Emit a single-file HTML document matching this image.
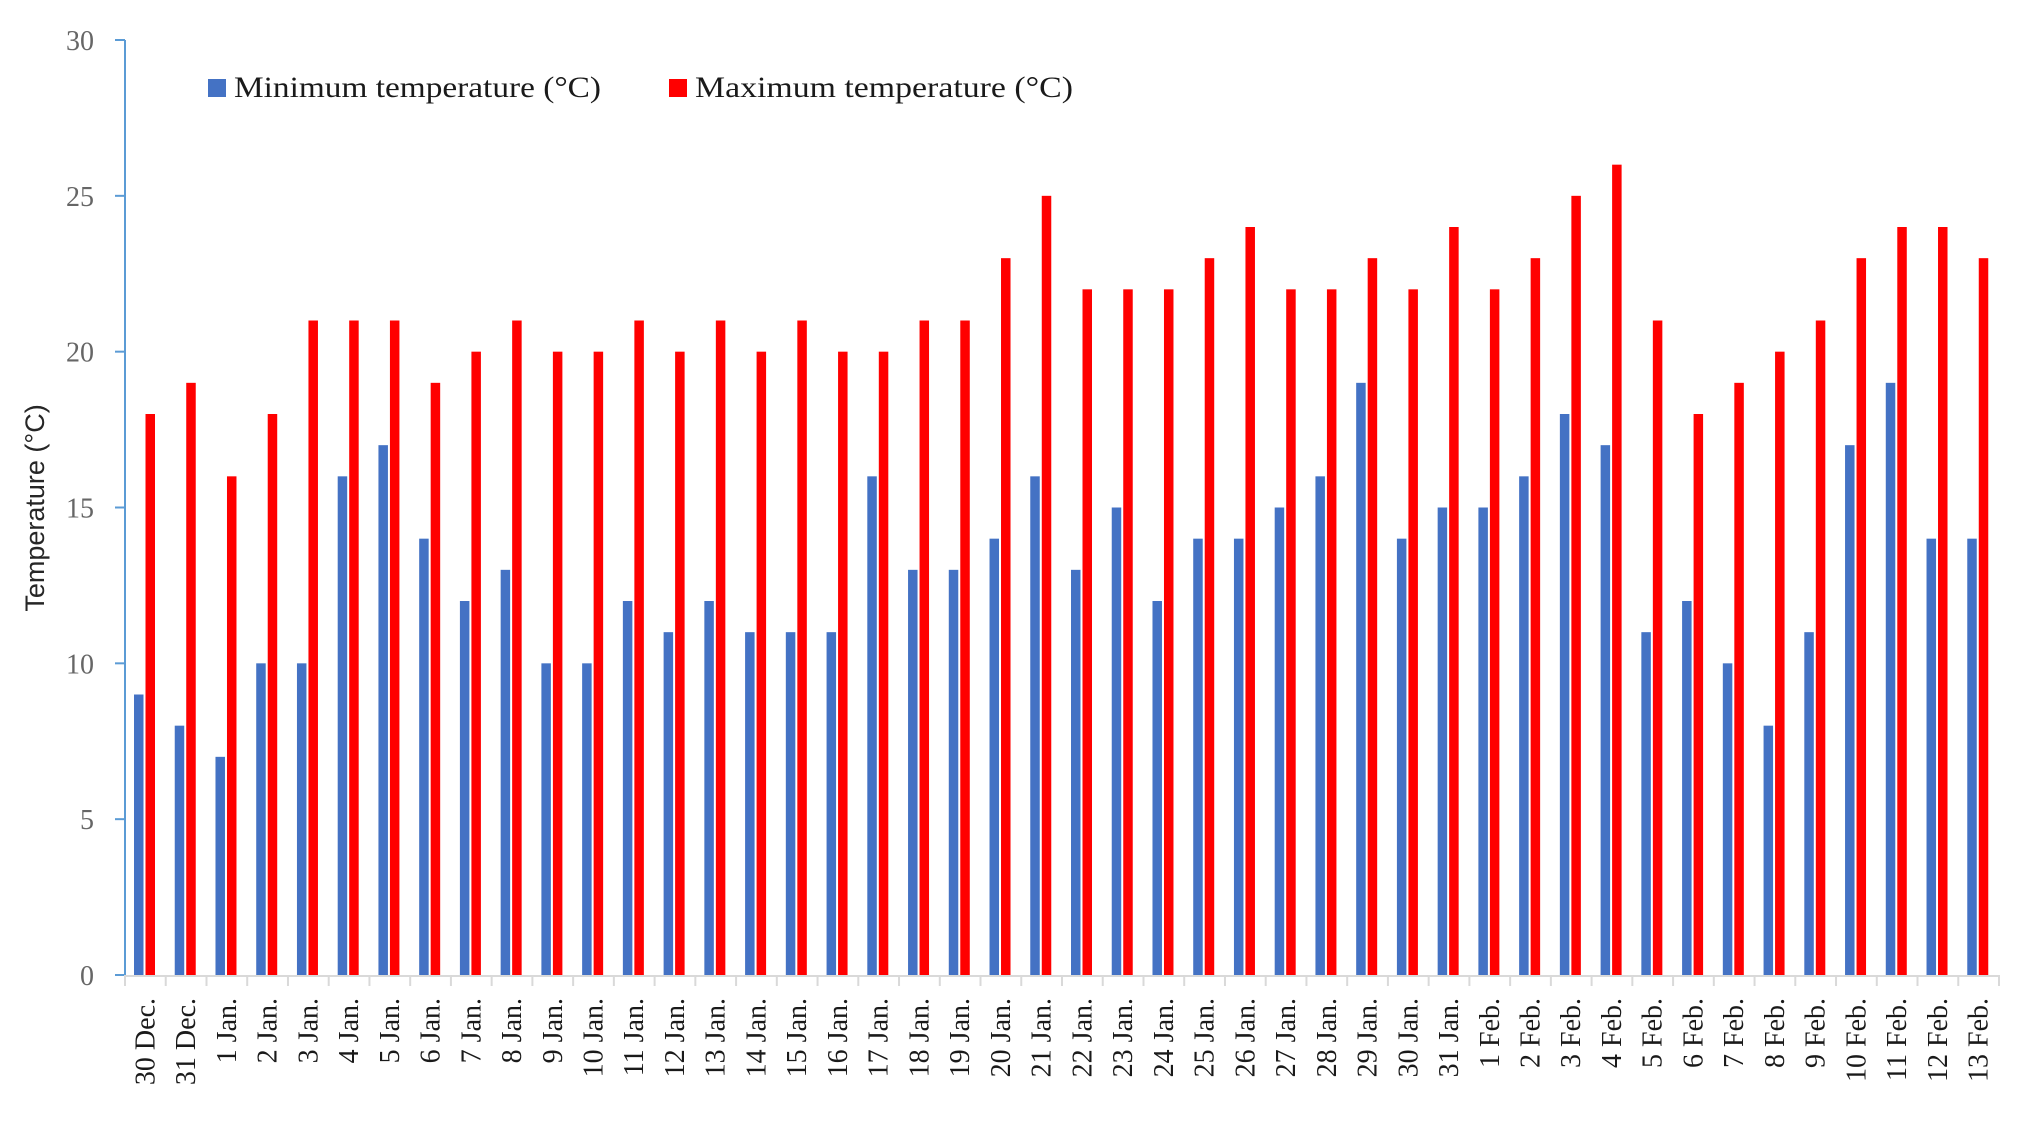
<!DOCTYPE html>
<html><head><meta charset="utf-8"><style>
html,body{margin:0;padding:0;background:#fff;}
svg{display:block;}
</style></head><body>
<svg id="chart" width="2026" height="1122" viewBox="0 0 2026 1122" xmlns="http://www.w3.org/2000/svg">
<g id="grid"></g>
<g id="bars"></g>
<g id="labels"></g>
<text transform="translate(44,508) rotate(-90)" text-anchor="middle" font-family="Liberation Sans, sans-serif" font-size="27" fill="#262626">Temperature (°C)</text>
<g>
<rect x="208" y="79" width="18" height="18" fill="#4472C4"/>
<text x="234" y="97" font-family="Liberation Serif, serif" font-size="30" fill="#1a1a1a" textLength="367" lengthAdjust="spacingAndGlyphs">Minimum temperature (°C)</text>
<rect x="669" y="79" width="18" height="18" fill="#FF0000"/>
<text x="695" y="97" font-family="Liberation Serif, serif" font-size="30" fill="#1a1a1a" textLength="378" lengthAdjust="spacingAndGlyphs">Maximum temperature (°C)</text>
</g>
</svg>
<script>
const categories = ["30 Dec.","31 Dec.","1 Jan.","2 Jan.","3 Jan.","4 Jan.","5 Jan.","6 Jan.","7 Jan.","8 Jan.","9 Jan.","10 Jan.","11 Jan.","12 Jan.","13 Jan.","14 Jan.","15 Jan.","16 Jan.","17 Jan.","18 Jan.","19 Jan.","20 Jan.","21 Jan.","22 Jan.","23 Jan.","24 Jan.","25 Jan.","26 Jan.","27 Jan.","28 Jan.","29 Jan.","30 Jan.","31 Jan.","1 Feb.","2 Feb.","3 Feb.","4 Feb.","5 Feb.","6 Feb.","7 Feb.","8 Feb.","9 Feb.","10 Feb.","11 Feb.","12 Feb.","13 Feb."];
const minTemp = [9,8,7,10,10,16,17,14,12,13,10,10,12,11,12,11,11,11,16,13,13,14,16,13,15,12,14,14,15,16,19,14,15,15,16,18,17,11,12,10,8,11,17,19,14,14];
const maxTemp = [18,19,16,18,21,21,21,19,20,21,20,20,21,20,21,20,21,20,20,21,21,23,25,22,22,22,23,24,22,22,23,22,24,22,23,25,26,21,18,19,20,21,23,24,24,23];
const yTicks = [0,5,10,15,20,25,30];

const NS = "http://www.w3.org/2000/svg";
const X0 = 125, X1 = 1999, Y0 = 975, Y30 = 40;
const band = (X1 - X0) / categories.length;
function yScale(v){ return Y0 - (v/30)*(Y0 - Y30); }
function xScale(i){ return X0 + i*band; }
function mk(tag, attrs, parent){ const e=document.createElementNS(NS,tag); for(const k in attrs) e.setAttribute(k,attrs[k]); parent.appendChild(e); return e; }
const grid=document.getElementById('grid'), bars=document.getElementById('bars'), labels=document.getElementById('labels');

let ya = mk('line',{x1:X0,y1:Y30,x2:X0,y2:Y0,stroke:'#5B9BD5','stroke-width':2},grid);


yTicks.forEach(v=>{
  const y=yScale(v);
  const t=mk('line',{x1:X0-10,y1:y,x2:X0,y2:y,stroke:'#5B9BD5','stroke-width':2},grid);
  
  
  const l=mk('text',{x:94,y:y+10,'text-anchor':'end','font-family':'Liberation Serif, serif','font-size':28,fill:'#666'},labels);
  l.textContent=v;
  
  
});
let xa = mk('line',{x1:X0,y1:Y0+1,x2:X1,y2:Y0+1,stroke:'#d9d9d9','stroke-width':2},grid);


for(let i=0;i<=categories.length;i++){
  const x=xScale(i);
  const t=mk('line',{x1:x,y1:Y0,x2:x,y2:Y0+11,stroke:'#d9d9d9','stroke-width':2},grid);
  
  
}
categories.forEach((c,i)=>{
  const x=xScale(i);
  const b1=mk('rect',{x:x+9,y:yScale(minTemp[i]),width:9.5,height:Y0-yScale(minTemp[i]),fill:'#4472C4'},bars);
  
  
  const b2=mk('rect',{x:x+20.5,y:yScale(maxTemp[i]),width:9.5,height:Y0-yScale(maxTemp[i]),fill:'#FF0000'},bars);
  
  
  const cx=x+band/2+9;
  const l=mk('text',{transform:`translate(${cx},998) rotate(-90)`,'text-anchor':'end','font-family':'Liberation Serif, serif','font-size':28,fill:'#1a1a1a'},labels);
  l.textContent=c;
  
  
});
</script>
</body></html>
